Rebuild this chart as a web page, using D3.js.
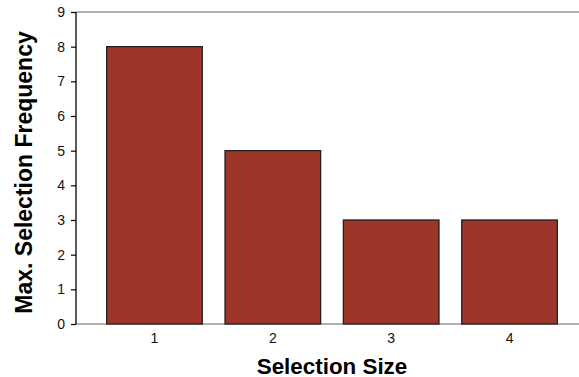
<!DOCTYPE html>
<html><head><meta charset="utf-8">
<script src="https://cdn.jsdelivr.net/npm/d3@7"></script>
<style>body{margin:0;background:#fff}svg{display:block}text{font-family:"Liberation Sans",Arial,sans-serif}</style>
</head><body><svg id="c" width="579" height="377"></svg>
<script>
const categories = ["1","2","3","4"];
const values = [8,5,3,3];
const yTicks = [0,1,2,3,4,5,6,7,8,9];
const xTitle = "Selection Size";
const yTitle = "Max. Selection Frequency";

(function(){
const svg = d3.select("#c");
const mLeft = 76, mRight = 588, mTop = 12, mBottom = 324;
const x = d3.scaleBand().domain(categories).range([mLeft, mRight]).paddingInner(0.192).paddingOuter(0.259);
const y = d3.scaleLinear().domain([0,9]).range([mBottom, mTop]);

svg.append("line").attr("x1", mLeft).attr("x2", 579).attr("y1", y(9)).attr("y2", y(9)).attr("stroke","#999").attr("stroke-width",1.5);
svg.append("line").attr("x1", mLeft).attr("x2", 579).attr("y1", y(0)).attr("y2", y(0)).attr("stroke","#999").attr("stroke-width",1.5);

svg.selectAll("rect.bar").data(values).join("rect").attr("class","bar")
  .attr("x",(d,i)=>x(categories[i])).attr("width",x.bandwidth())
  .attr("y",d=>y(d)).attr("height",d=>y(0)-y(d))
  .attr("fill","#9E3529").attr("stroke","#222").attr("stroke-width",1.3);

const yAxis = svg.append("g").attr("transform",`translate(${mLeft},0)`)
  .call(d3.axisLeft(y).tickValues(yTicks).tickSize(5).tickPadding(6).tickFormat(d3.format("d")));
yAxis.select(".domain").attr("stroke","#000").attr("stroke-width",1.3).attr("d",`M0,${y(0)}V${y(9)}`);
yAxis.selectAll(".tick line").attr("stroke","#000").attr("stroke-width",1.2);
yAxis.selectAll(".tick text").attr("font-size",14).attr("fill","#111").style("font-family","'Liberation Sans',Arial,sans-serif");

const xAxis = svg.append("g").attr("transform",`translate(0,${y(0)})`)
  .call(d3.axisBottom(x).tickSize(0).tickPadding(9));
xAxis.select(".domain").remove();
xAxis.selectAll(".tick text").attr("font-size",14).attr("fill","#111").style("font-family","'Liberation Sans',Arial,sans-serif");

svg.append("text").attr("x",(mLeft+mRight)/2).attr("y",373.5).attr("text-anchor","middle")
  .attr("font-size",22.4).attr("font-weight","bold").attr("fill","#000").text(xTitle);
svg.append("text").attr("transform",`translate(32,172.5) rotate(-90)`).attr("text-anchor","middle")
  .attr("font-size",23).attr("font-weight","bold").attr("fill","#000").text(yTitle);
})();
</script></body></html>
